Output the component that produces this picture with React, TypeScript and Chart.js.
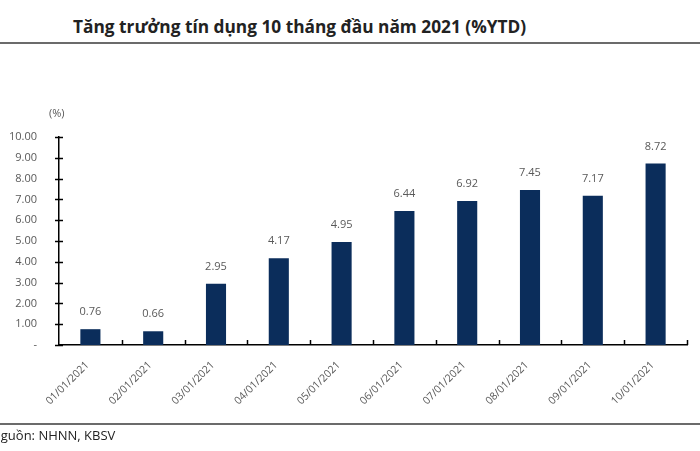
import React, { useEffect, useRef } from "react";
import { Chart, registerables } from "chart.js";

Chart.register(...registerables);

const categories = [
  "01/01/2021", "02/01/2021", "03/01/2021", "04/01/2021", "05/01/2021",
  "06/01/2021", "07/01/2021", "08/01/2021", "09/01/2021", "10/01/2021",
];
const creditGrowth = [0.76, 0.66, 2.95, 4.17, 4.95, 6.44, 6.92, 7.45, 7.17, 8.72];
const yTicks = [0, 1, 2, 3, 4, 5, 6, 7, 8, 9, 10];

const titleText = "Tăng trưởng tín dụng 10 tháng đầu năm 2021 (%YTD)";
const sourceText = "Nguồn: NHNN, KBSV";
const unitText = "(%)";

const FONT = "'Open Sans', 'Noto Sans', sans-serif";
const BAR = "#0b2d5b";
const GRAY = "#595959";

const axisPlugin = {
  id: "customAxes",
  afterDatasetsDraw(chart: any) {
    const { ctx, scales, chartArea } = chart;
    const x = scales.x;
    const y = scales.y;
    ctx.save();
    ctx.strokeStyle = "#000";
    ctx.lineWidth = 1.5;
    yTicks.forEach((v) => {
      const py = Math.round(y.getPixelForValue(v)) + 0.5;
      ctx.beginPath();
      ctx.moveTo(chartArea.left - 4, py);
      ctx.lineTo(chartArea.left + 4, py);
      ctx.stroke();
    });
    const n = categories.length;
    const step = x.getPixelForValue(1) - x.getPixelForValue(0);
    const base = Math.round(y.getPixelForValue(0));
    for (let i = 1; i <= n; i++) {
      const px = x.getPixelForValue(i - 1) + step / 2;
      ctx.beginPath();
      ctx.moveTo(Math.round(px) + 0.5, base);
      ctx.lineTo(Math.round(px) + 0.5, base - 5);
      ctx.stroke();
    }
    const meta = chart.getDatasetMeta(0);
    ctx.fillStyle = GRAY;
    ctx.font = `11px ${FONT}`;
    ctx.textAlign = "center";
    ctx.textBaseline = "middle";
    meta.data.forEach((bar: any, i: number) => {
      ctx.fillText(creditGrowth[i].toFixed(2), bar.x, bar.y - 17);
    });
    ctx.restore();
  },
};

export default function App() {
  const ref = useRef<HTMLCanvasElement>(null);
  useEffect(() => {
    if (!ref.current) return;
    const chart = new Chart(ref.current, {
      type: "bar",
      data: {
        labels: categories,
        datasets: [
          {
            data: creditGrowth,
            backgroundColor: BAR,
            barPercentage: 0.32,
            categoryPercentage: 1,
          },
        ],
      },
      options: {
        animation: false,
        responsive: false,
        maintainAspectRatio: false,
        layout: { padding: { left: 0, right: 13, top: 137, bottom: 20 } },
        plugins: { legend: { display: false }, tooltip: { enabled: false }, title: { display: false } },
        scales: {
          x: {
            offset: true,
            grid: { display: false },
            border: { display: true, color: "#000", width: 1.5 },
            ticks: {
              color: GRAY,
              font: { family: FONT, size: 10.5 },
              minRotation: 45,
              maxRotation: 45,
              padding: 6,
              labelOffset: -3,
              autoSkip: false,
            },
            afterFit: (s: any) => { s.height = 86; },
          },
          y: {
            min: 0,
            max: 10,
            grid: { display: false },
            border: { display: true, color: "#000", width: 1.5 },
            ticks: {
              stepSize: 1,
              color: GRAY,
              font: { family: FONT, size: 11 },
              padding: 14,
              callback: (v: any) => (Number(v) === 0 ? "-" : Number(v).toFixed(2)),
            },
            afterFit: (s: any) => { s.width = 59; },
          },
        },
      },
      plugins: [axisPlugin],
    });
    return () => chart.destroy();
  }, []);

  return (
    <div style={{ position: "fixed", left: 0, top: 0, width: 700, height: 451, background: "#fff", overflow: "hidden", fontFamily: FONT }}>
      <div style={{ position: "absolute", left: 73, top: 15, fontSize: 17.3, fontWeight: 700, color: "#222", whiteSpace: "nowrap" }}>
        {titleText}
      </div>
      <div style={{ position: "absolute", left: 0, top: 42, width: 700, height: 2, background: "#6b6b6b" }} />
      <canvas ref={ref} width={700} height={451} style={{ position: "absolute", left: 0, top: 0 }} />
      <div style={{ position: "absolute", left: 49, top: 105, fontSize: 11, color: GRAY }}>{unitText}</div>
      <div style={{ position: "absolute", left: 0, top: 423, width: 700, height: 2, background: "#6b6b6b" }} />
      <div style={{ position: "absolute", left: -9, top: 426, fontSize: 13, color: "#222", whiteSpace: "nowrap" }}>{sourceText}</div>
    </div>
  );
}
